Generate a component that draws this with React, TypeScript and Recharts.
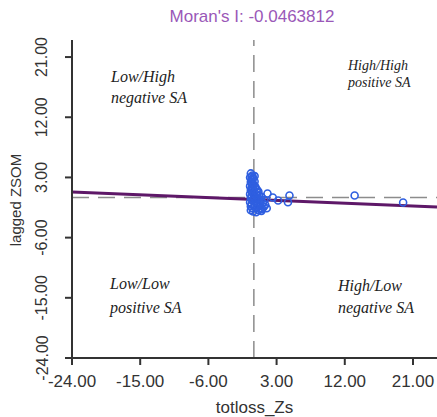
import React from 'react';
import {
  ScatterChart,
  Scatter,
  XAxis,
  YAxis,
  ReferenceLine,
  Label,
} from 'recharts';

// Moran scatter plot: standardized totloss vs its spatial lag
const moransI = -0.0463812;
const intercept = -0.3;

const xDomain: [number, number] = [-24, 24.17];
const yDomain: [number, number] = [-24, 23.55];
const xTicks = [-24, -15, -6, 3, 12, 21];
const yTicks = [-24, -15, -6, 3, 12, 21];

// totloss_Zs values
const zs = [
  -0.4, -0.2, -0.5, -0.3, -0.4, -0.2, -0.5, -0.3, -0.4, -0.2,
  -0.5, -0.3, -0.4, -0.2, -0.5, -0.3, -0.4, -0.2, -0.4, -0.1,
  0.2, 0.4, 0.6, 0.3, 0.7, 1.0, 0.5, 0.9, 1.2, 0.4,
  0.8, 1.3, 0.3, 0.6, 1.0, 0.0, 0.1, 0.1, -0.1, 0.2,
  -0.3, -0.1, 0.0, 0.2, 0.5, 0.8, 1.1, 1.5, 0.3, 0.6,
  1.4, 1.7, 0.9, 0.0, -0.2, 0.1,
  1.8, 2.5, 3.2, 4.7, 4.5, 13.3, 19.7,
];
// lagged values
const lagged = [
  3.6, 3.3, 3.0, 2.7, 2.3, 2.0, 1.7, 1.4, 1.1, 0.8,
  0.5, 0.2, -0.1, -0.4, -0.7, -1.0, -1.3, -1.6, -1.9, -2.1,
  1.6, 1.2, 0.9, 0.5, 0.3, 0.1, -0.2, -0.5, -0.8, -0.9,
  -1.3, -1.4, -1.6, -1.9, -2.0, 0.0, -1.2, 2.4, 2.9, -0.6,
  3.1, 1.5, 0.6, -0.3, 0.7, -0.9, -1.7, -1.1, -2.2, -0.1,
  -0.4, -1.6, -1.7, 1.9, 2.6, 3.2,
  0.6, 0.0, -0.45, 0.3, -0.7, 0.3, -0.75,
];

const points = zs.map((x, i) => ({ x, y: lagged[i] }));

const fmt = (v: number) => v.toFixed(2);
const sans = "'Liberation Sans', Arial, sans-serif";

const XTick = ({ x, y, payload }: any) => (
  <text x={x} y={y + 20} textAnchor="middle" fontSize={17} fill="#333" fontFamily={sans}>
    {fmt(payload.value)}
  </text>
);

const YTick = ({ x, y, payload }: any) => {
  const cx = x - 21;
  return (
    <text x={cx} y={y} textAnchor="middle" dominantBaseline="central" fontSize={16}
      fill="#333" fontFamily={sans} transform={`rotate(-90 ${cx} ${y})`}>
      {fmt(payload.value)}
    </text>
  );
};

const Circle = (props: any) => (
  <circle cx={props.cx} cy={props.cy} r={3.5} fill="none" stroke="#2f5fe0" strokeWidth={1.6} />
);

const quadStyle: React.CSSProperties = {
  position: 'absolute',
  fontFamily: "'Liberation Serif', 'Times New Roman', Times, serif",
  fontStyle: 'italic',
  color: '#222',
  lineHeight: '21px',
  whiteSpace: 'nowrap',
};

export default function App() {
  return (
    <div style={{ position: 'absolute', left: 0, top: 0, width: 437, height: 417, background: '#fff' }}>
      <ScatterChart width={437} height={417} margin={{ top: 40, right: 0, left: 0, bottom: 0 }}>
        <XAxis type="number" dataKey="x" domain={xDomain} ticks={xTicks} allowDataOverflow
          height={59} axisLine={{ stroke: '#333', strokeWidth: 2 }}
          tickLine={{ stroke: '#333', strokeWidth: 2 }} tickSize={7} tick={<XTick />}>
          <Label value="totloss_Zs" position="insideBottom" offset={4} fontSize={17}
            fill="#333" fontFamily={sans} />
        </XAxis>
        <YAxis type="number" dataKey="y" domain={yDomain} ticks={yTicks} allowDataOverflow
          width={72} axisLine={{ stroke: '#333', strokeWidth: 2 }}
          tickLine={{ stroke: '#333', strokeWidth: 2 }} tickSize={7} tick={<YTick />}>
          <Label content={() => (
            <text x={15} y={200} transform="rotate(-90 15 200)" textAnchor="middle"
              dominantBaseline="central" fontSize={15} fill="#333" fontFamily={sans}>
              lagged ZSOM
            </text>
          )} />
        </YAxis>
        <ReferenceLine x={0} stroke="#8c8c8c" strokeWidth={1.5} strokeDasharray="17 9" />
        <ReferenceLine y={0} stroke="#8c8c8c" strokeWidth={1.5} strokeDasharray="17 9" />
        <Scatter data={points} shape={<Circle />} isAnimationActive={false} />
        <ReferenceLine
          segment={[
            { x: xDomain[0], y: intercept + moransI * xDomain[0] },
            { x: xDomain[1], y: intercept + moransI * xDomain[1] },
          ]}
          stroke="#5e1868" strokeWidth={3}
        />
      </ScatterChart>
      <div style={{
        position: 'absolute', left: 152, top: 7, width: 200, textAlign: 'center',
        fontFamily: sans, fontSize: 17, color: '#9a58b8',
      }}>
        Moran's I: -0.0463812
      </div>
      <div style={{ ...quadStyle, left: 111, top: 66, fontSize: 16 }}>Low/High<br />negative SA</div>
      <div style={{ ...quadStyle, left: 348, top: 57, fontSize: 14, lineHeight: '17px' }}>High/High<br />positive SA</div>
      <div style={{ ...quadStyle, left: 110, top: 272, fontSize: 16, lineHeight: '24px' }}>Low/Low<br />positive SA</div>
      <div style={{ ...quadStyle, left: 338, top: 275, fontSize: 16, lineHeight: '22px' }}>High/Low<br />negative SA</div>
    </div>
  );
}
